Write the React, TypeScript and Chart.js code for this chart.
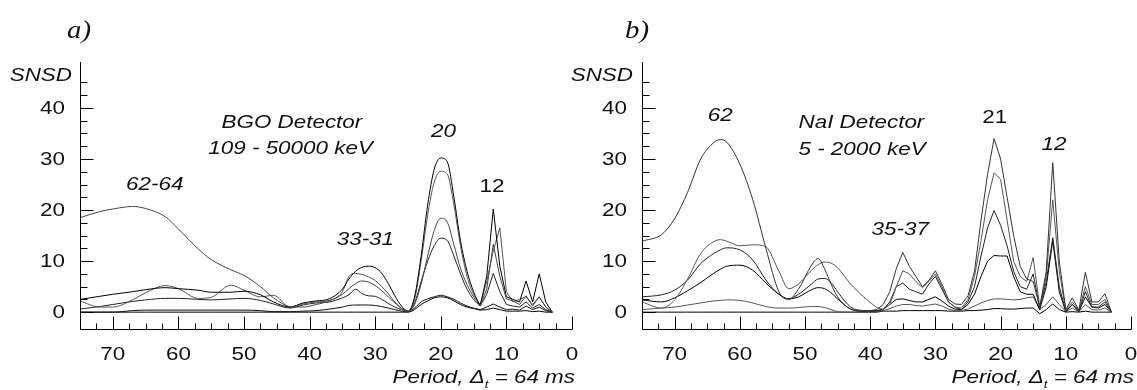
import React, { useEffect, useRef } from "react";
import { Chart, registerables } from "chart.js";

Chart.register(...registerables);

// ---------- Panel a) BGO detector ----------
const periodsA = [75, 72, 70, 67, 65, 62, 60, 57, 55, 52, 50, 47.5, 45.5, 43, 41, 39, 37, 35,
  34, 33, 32, 31, 30, 29, 28, 27, 26, 25, 24, 23, 22, 21, 20, 19, 18, 17, 16, 15, 14, 13, 12, 11, 10, 9, 8, 7, 6, 5, 4, 3];

const bgo1 = [18.5, 19.7, 20.2, 20.7, 20.3, 18.7, 16.3, 12.4, 10.3, 8.3, 7.2, 5.0, 2.8, 1.1, 1.0, 1.5, 2.2, 3.5,
  4.6, 5.6, 6.1, 5.9, 5.2, 4.2, 3.0, 1.8, 0.7, 0.2, 1.5, 5.5, 11.0, 16.0, 18.4, 17.6, 13.2, 8.6, 5.4, 3.0, 1.2, 4.5, 13.3, 7.0, 2.6, 2.2, 1.5, 3.2, 1.2, 3.0, 1.0, 0];
const bgo2 = [2.5, 3.1, 3.5, 4.0, 4.4, 4.8, 4.6, 4.3, 3.9, 3.9, 4.1, 3.4, 2.0, 1.0, 1.8, 2.2, 2.6, 4.5,
  6.5, 8.0, 8.8, 9.0, 8.7, 7.6, 5.6, 3.2, 1.2, 0.2, 3.0, 11.0, 21.0, 28.0, 30.2, 29.4, 22.5, 14.0, 8.0, 4.0, 1.2, 7.0, 20.2, 9.0, 3.0, 2.5, 2.0, 6.1, 2.0, 7.5, 2.0, 0];
const bgo3 = [2.2, 1.0, 1.0, 2.4, 3.8, 5.2, 4.6, 2.7, 2.9, 5.3, 4.3, 3.0, 3.3, 1.0, 1.6, 2.0, 2.3, 4.0,
  7.0, 7.6, 7.4, 6.9, 6.2, 5.0, 3.6, 2.0, 0.8, 0.1, 2.5, 10.0, 19.0, 25.5, 27.6, 27.0, 21.0, 13.0, 7.0, 3.5, 1.5, 6.0, 12.0, 16.5, 4.0, 2.0, 2.5, 3.0, 1.5, 3.0, 1.0, 0];
const bgo4 = [0.6, 1.1, 1.5, 2.1, 2.4, 2.7, 2.7, 2.5, 2.4, 2.6, 2.7, 2.3, 1.6, 0.8, 1.4, 1.8, 2.0, 2.8,
  3.4, 4.5, 3.6, 3.2, 3.1, 2.5, 1.7, 1.0, 0.5, 0.1, 1.8, 6.0, 10.0, 13.0, 14.5, 14.0, 11.0, 7.5, 4.5, 2.5, 1.2, 3.5, 7.6, 4.0, 1.5, 1.2, 1.0, 2.0, 0.8, 1.5, 0.5, 0];
const bgo5 = [0, 0, 0, 0.3, 0.4, 0.4, 0.4, 0.4, 0.4, 0.4, 0.4, 0.3, 0.1, 0.1, 0.2, 0.3, 0.6, 1.0,
  1.3, 1.4, 1.4, 1.4, 1.3, 1.1, 0.8, 0.5, 0.2, 0.1, 0.8, 2.0, 2.6, 3.0, 3.3, 3.0, 2.5, 1.8, 1.2, 0.8, 0.5, 1.0, 1.6, 1.0, 0.5, 0.6, 0.4, 1.2, 0.5, 1.0, 0.3, 0];
const bgo6 = [0, 0, 0, 0, 0, 0, 0, 0, 0, 0, 0, 0, 0, 0, 0, 0, 0, 0,
  0, 0, 0, 0, 0, 0, 0, 0, 0, 0, 0.5, 1.5, 2.2, 2.8, 3.0, 2.8, 2.2, 1.5, 1.0, 0.7, 0.4, 0.5, 0.8, 0.5, 0.2, 0.2, 0.2, 0.3, 0.1, 0.2, 0, 0];

// ---------- Panel b) NaI detector ----------
const periodsB = [75, 72, 70, 68, 66, 64, 63, 62, 60, 58, 56, 54, 52.5, 51, 49, 48, 47, 46, 45, 43, 41, 39,
  38, 37, 36, 35, 34, 33, 32, 31, 30, 29, 28, 27, 26, 25, 24, 23, 22, 21, 20, 19, 18, 17, 16, 15, 14, 13, 12, 11, 10, 9, 8, 7, 6, 5, 4, 3];

const nai1 = [13.9, 15.2, 18.3, 23.5, 30.0, 33.2, 33.8, 33.3, 29.0, 22.0, 12.5, 4.0, 2.5, 4.5, 9.2, 10.5, 8.5, 5.5, 3.0, 0.6, 0.2, 0.5,
  1.5, 4.0, 8.5, 11.7, 9.0, 7.0, 5.0, 6.2, 8.1, 5.5, 2.5, 1.6, 1.5, 3.2, 8.0, 18.0, 27.0, 34.0, 30.0, 22.5, 15.0, 9.0, 6.5, 6.0, 1.0, 8.0, 29.3, 10.0, 0.5, 2.8, 0.4, 7.8, 2.0, 2.0, 3.6, 0];
const nai2 = [2.0, 0.8, 2.4, 6.5, 11.5, 13.8, 14.2, 13.9, 13.0, 13.2, 12.8, 8.0, 4.6, 5.5, 8.2, 9.3, 9.8, 9.6, 8.7, 5.5, 3.0, 0.9,
  0.5, 1.5, 5.0, 8.1, 7.5, 6.0, 4.8, 6.0, 7.5, 5.0, 2.0, 1.0, 0.8, 2.5, 7.0, 14.0, 22.0, 27.3, 26.0, 18.0, 10.0, 7.0, 6.0, 10.7, 1.0, 7.0, 22.0, 8.0, 0.3, 2.0, 0.3, 5.0, 1.5, 1.5, 2.5, 0];
const nai3 = [3.0, 3.4, 4.3, 6.3, 9.5, 11.5, 12.2, 12.6, 12.2, 10.2, 6.3, 3.5, 2.6, 3.5, 5.5, 6.5, 6.6, 5.8, 4.0, 1.0, 0.3, 0.2,
  0.5, 2.0, 5.0, 5.7, 4.5, 4.0, 3.5, 5.5, 7.0, 4.5, 2.0, 1.0, 0.5, 2.0, 5.0, 11.0, 16.5, 19.9, 17.0, 13.0, 8.0, 5.0, 4.5, 7.5, 0.8, 6.0, 14.6, 5.0, 0.2, 1.5, 0.2, 4.0, 1.0, 1.0, 2.0, 0];
const nai4 = [2.4, 2.0, 2.8, 4.2, 5.8, 7.6, 8.4, 9.0, 9.2, 8.2, 5.7, 3.5, 2.6, 3.0, 4.4, 4.8, 4.6, 3.8, 2.6, 0.6, 0.2, 0.3,
  0.6, 1.5, 2.5, 2.6, 2.3, 2.0, 2.0, 2.5, 3.0, 2.2, 1.2, 0.6, 0.5, 1.5, 3.5, 7.0, 10.0, 11.1, 11.0, 11.0, 7.0, 4.0, 3.5, 3.5, 0.5, 5.0, 14.0, 4.0, 0.1, 1.5, 0.1, 3.0, 1.0, 0.8, 1.5, 0];
const nai5 = [0.5, 0.8, 1.0, 1.4, 1.8, 2.2, 2.3, 2.4, 2.3, 1.8, 1.1, 0.8, 0.8, 0.9, 1.1, 1.1, 0.9, 0.5, 0.1, 0, 0, 0.1,
  0.3, 0.7, 1.2, 1.5, 1.5, 1.3, 1.2, 1.4, 1.6, 1.2, 0.6, 0.3, 0.3, 0.6, 1.2, 1.8, 2.3, 2.6, 2.6, 2.5, 2.4, 2.5, 2.8, 3.0, 0.5, 1.5, 3.0, 1.5, 0.1, 0.8, 0.1, 1.5, 0.5, 0.4, 0.8, 0];
const nai6 = [0, 0, 0, 0, 0, 0, 0, 0, 0, 0, 0, 0, 0, 0, 0, 0, 0, 0, 0, 0, 0, 0,
  0.2, 0.2, 0.2, 0.3, 0.3, 0.3, 0.3, 0.3, 0.3, 0.3, 0.2, 0.2, 0.2, 0.3, 0.3, 0.4, 0.5, 0.7, 0.7, 0.6, 0.6, 0.7, 0.8, 0.8, -0.3, 0.5, 1.6, 0.5, 0, 0.1, 0, 0.2, 0, 0, 0, 0];

// ---------- Axes ----------
const xTickLabels = [70, 60, 50, 40, 30, 20, 10, 0];
const yTickLabels = [0, 10, 20, 30, 40];
const yAxisTitle = "SNSD";
const xAxisTitle = ["Period, Δ", "t", " = 64 ms"];

const bgoNotes = [
  { text: "BGO Detector", x: 42.7, y: 36.1, align: "center", italic: true },
  { text: "109 - 50000 keV", x: 42.9, y: 30.9, align: "center", italic: true },
  { text: "62-64", x: 63.6, y: 23.9, align: "center", italic: true },
  { text: "33-31", x: 31.5, y: 13.1, align: "center", italic: true },
  { text: "20", x: 19.6, y: 34.3, align: "center", italic: true },
  { text: "12", x: 12.2, y: 23.5, align: "center", italic: false },
];
const naiNotes = [
  { text: "62", x: 63.0, y: 37.5, align: "center", italic: true },
  { text: "NaI Detector", x: 51.0, y: 36.0, align: "left", italic: true },
  { text: "5 - 2000 keV", x: 51.0, y: 30.7, align: "left", italic: true },
  { text: "35-37", x: 35.4, y: 15.1, align: "center", italic: true },
  { text: "21", x: 20.9, y: 37.0, align: "center", italic: false },
  { text: "12", x: 11.8, y: 31.7, align: "center", italic: true },
];

const SANS = '"Liberation Sans", Arial, sans-serif';
const SERIF = '"Liberation Serif", "Times New Roman", serif';
const SX = 1.18;
const INK = "#111";

type Note = { text: string; x: number; y: number; align: string; italic: boolean };

function drawText(
  ctx: CanvasRenderingContext2D,
  text: string,
  x: number,
  y: number,
  o: { size?: number; italic?: boolean; align?: CanvasTextAlign; family?: string; sx?: number }
) {
  ctx.save();
  ctx.font = `${o.italic ? "italic " : ""}${o.size ?? 19}px ${o.family ?? SANS}`;
  ctx.textAlign = o.align ?? "left";
  ctx.textBaseline = "alphabetic";
  ctx.fillStyle = INK;
  ctx.translate(x, y);
  ctx.scale(o.sx ?? SX, 1);
  ctx.fillText(text, 0, 0);
  ctx.restore();
}

function makeAxesPlugin(letter: string, letterDx: number, snsdDx: number, notes: Note[]) {
  return {
    id: "customAxes",
    afterDraw(chart: any) {
      const { ctx, chartArea, scales } = chart;
      const { left, right, top, bottom } = chartArea;
      const xs = scales.x;
      const ys = scales.y;
      ctx.save();
      ctx.strokeStyle = "#000";
      ctx.lineWidth = 1;
      const ax = Math.round(left) + 0.5;
      const ay = Math.round(bottom) + 0.5;
      ctx.beginPath();
      ctx.moveTo(ax, Math.round(top));
      ctx.lineTo(ax, ay);
      ctx.lineTo(Math.round(right) + 0.5, ay);
      ctx.stroke();
      ctx.beginPath();
      for (const t of ys.ticks) {
        const v = t.value;
        if (Math.abs(v / 2.5 - Math.round(v / 2.5)) > 1e-6) continue;
        const py = Math.round(ys.getPixelForValue(v)) + 0.5;
        const major = Math.abs(v % 10) < 1e-6;
        ctx.moveTo(ax, py);
        ctx.lineTo(ax + (major ? 13 : 7), py);
      }
      for (const t of xs.ticks) {
        const v = t.value;
        if (Math.abs(v / 2.5 - Math.round(v / 2.5)) > 1e-6) continue;
        const px = Math.round(xs.getPixelForValue(v)) + 0.5;
        const major = Math.abs(v % 10) < 1e-6;
        ctx.moveTo(px, ay);
        ctx.lineTo(px, ay - (major ? 13 : 6));
      }
      ctx.stroke();
      ctx.restore();

      for (const v of yTickLabels) {
        drawText(ctx, String(v), left - 15, ys.getPixelForValue(v) + 6, { align: "right" });
      }
      for (const v of xTickLabels) {
        drawText(ctx, String(v), xs.getPixelForValue(v), bottom + 31, { align: "center" });
      }
      drawText(ctx, yAxisTitle, left - snsdDx, top + 19, { align: "right", italic: true });

      ctx.save();
      ctx.font = `italic 19px ${SANS}`;
      const w1 = ctx.measureText(xAxisTitle[0]).width * SX;
      const w3 = ctx.measureText(xAxisTitle[2]).width * SX;
      ctx.font = `italic 11px ${SANS}`;
      const w2 = ctx.measureText(xAxisTitle[1]).width * SX;
      ctx.restore();
      const endX = right + 3;
      const startX = endX - (w1 + w2 + w3);
      const base = bottom + 54;
      drawText(ctx, xAxisTitle[0], startX, base, { italic: true });
      drawText(ctx, xAxisTitle[1], startX + w1, base + 5, { italic: true, size: 11 });
      drawText(ctx, xAxisTitle[2], startX + w1 + w2, base, { italic: true });

      drawText(ctx, letter, left - letterDx, 38, { family: SERIF, italic: true, size: 25, sx: 1.15 });

      for (const n of notes) {
        drawText(ctx, n.text, xs.getPixelForValue(n.x), ys.getPixelForValue(n.y), {
          align: n.align as CanvasTextAlign,
          italic: n.italic,
        });
      }
    },
  };
}

type PanelCfg = {
  periods: number[];
  series: number[][];
  colors: string[];
  jaggedBelow: number;
  letter: string;
  letterDx: number;
  snsdDx: number;
  notes: Note[];
  canvasLeft: number;
  canvasWidth: number;
  padRight: number;
  yWidth: number;
};

const panelA: PanelCfg = {
  periods: periodsA,
  series: [bgo1, bgo2, bgo3, bgo4, bgo5, bgo6],
  colors: ["#444", "#000", "#555", "#222", "#111", "#000"],
  jaggedBelow: 14,
  letter: "a)",
  letterDx: 13,
  snsdDx: 8,
  notes: bgoNotes,
  canvasLeft: 0,
  canvasWidth: 590,
  padRight: 18,
  yWidth: 80,
};

const panelB: PanelCfg = {
  periods: periodsB,
  series: [nai1, nai2, nai3, nai4, nai5, nai6],
  colors: ["#333", "#555", "#222", "#000", "#555", "#000"],
  jaggedBelow: 39,
  letter: "b)",
  letterDx: 17,
  snsdDx: 9,
  notes: naiNotes,
  canvasLeft: 560,
  canvasWidth: 577,
  padRight: 6,
  yWidth: 82,
};

function Panel({ cfg }: { cfg: PanelCfg }) {
  const ref = useRef<HTMLCanvasElement>(null);
  useEffect(() => {
    const datasets: any[] = [];
    cfg.series.forEach((vals, i) => {
      const pts = cfg.periods.map((p, j) => ({ x: p, y: vals[j] }));
      // smooth (spline) part for long periods
      datasets.push({
        data: pts.filter((pt) => pt.x >= cfg.jaggedBelow),
        borderColor: cfg.colors[i],
        borderWidth: 1,
        pointRadius: 0,
        tension: 0.4,
        cubicInterpolationMode: "monotone",
        fill: false,
      });
      // straight-segment part for short periods
      datasets.push({
        data: pts.filter((pt) => pt.x <= cfg.jaggedBelow),
        borderColor: cfg.colors[i],
        borderWidth: 1,
        pointRadius: 0,
        tension: 0,
        fill: false,
      });
    });
    const chart = new Chart(ref.current!, {
      type: "line",
      data: { datasets },
      options: {
        animation: false,
        responsive: false,
        maintainAspectRatio: false,
        events: [],
        layout: { padding: { left: 0, right: cfg.padRight, top: 62, bottom: 61 } },
        plugins: { legend: { display: false }, tooltip: { enabled: false } },
        scales: {
          x: {
            type: "linear",
            reverse: true,
            min: 0,
            max: 75,
            ticks: { display: false, stepSize: 2.5 },
            grid: { display: false },
            border: { display: false },
            afterFit: (s: any) => {
              s.height = 0;
            },
          },
          y: {
            type: "linear",
            min: -3.3,
            max: 49,
            ticks: { display: false, stepSize: 2.5 },
            grid: { display: false },
            border: { display: false },
            afterFit: (s: any) => {
              s.width = cfg.yWidth;
            },
          },
        },
      },
      plugins: [makeAxesPlugin(cfg.letter, cfg.letterDx, cfg.snsdDx, cfg.notes)],
    } as any);
    return () => chart.destroy();
  }, [cfg]);
  return (
    <canvas
      ref={ref}
      width={cfg.canvasWidth}
      height={390}
      style={{ position: "absolute", left: cfg.canvasLeft, top: 0, width: cfg.canvasWidth, height: 390 }}
    />
  );
}

export default function App() {
  return (
    <div style={{ position: "absolute", left: 0, top: 0, width: 1137, height: 390, background: "#fff" }}>
      <Panel cfg={panelA} />
      <Panel cfg={panelB} />
    </div>
  );
}
